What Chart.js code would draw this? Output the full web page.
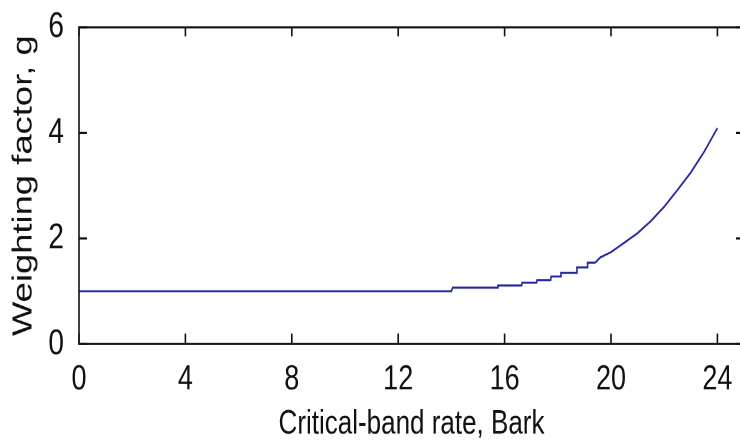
<!DOCTYPE html>
<html>
<head>
<meta charset="utf-8">
<script src="https://cdn.jsdelivr.net/npm/chart.js@4.4.1/dist/chart.umd.min.js"></script>
<style>
  html, body { margin: 0; padding: 0; background: #fff; overflow: hidden; width: 740px; height: 442px; }
  #wrap { width: 746px; height: 340px; transform: scaleY(1.3); transform-origin: 0 0; }
</style>
</head>
<body>
<div id="wrap"><canvas id="c" width="746" height="340"></canvas></div>
<script>
// Data
const barkValues = [0, 14.0, 14.05, 15.73, 15.75, 16.64, 16.66, 17.2, 17.22, 17.73, 17.75, 18.1, 18.12, 18.7, 18.72, 19.1, 19.12, 19.4, 19.6, 20.0, 20.5, 21.0, 21.5, 22.0, 22.5, 23.0, 23.5, 24.0];
const weightValues = [1.0, 1.0, 1.07, 1.07, 1.11, 1.11, 1.16, 1.16, 1.21, 1.21, 1.28, 1.28, 1.35, 1.35, 1.45, 1.45, 1.54, 1.54, 1.64, 1.74, 1.92, 2.10, 2.33, 2.60, 2.92, 3.25, 3.64, 4.09];
const xTickValues = [0, 4, 8, 12, 16, 20, 24];
const yTickValues = [0, 2, 4, 6];
const xTitle = 'Critical-band rate, Bark';
const yTitle = 'Weighting factor, g';

const points = barkValues.map((b, i) => ({ x: b, y: weightValues[i] }));

const boxPlugin = {
  id: 'boxTicks',
  afterDraw(chart) {
    const { ctx, chartArea: { left, right, top, bottom }, scales: { x, y } } = chart;
    ctx.save();
    ctx.strokeStyle = '#111';
    ctx.lineWidth = 1.6;
    ctx.strokeRect(left, top, right - left, bottom - top);
    ctx.beginPath();
    x.ticks.forEach(t => {
      const px = x.getPixelForValue(t.value);
      ctx.moveTo(px, bottom); ctx.lineTo(px, bottom - 8);
      ctx.moveTo(px, top); ctx.lineTo(px, top + 7);
    });
    y.ticks.forEach(t => {
      const py = y.getPixelForValue(t.value);
      ctx.moveTo(left, py); ctx.lineTo(left + 8, py);
      ctx.moveTo(right, py); ctx.lineTo(right - 8, py);
    });
    ctx.stroke();
    ctx.restore();
  }
};

new Chart(document.getElementById('c'), {
  type: 'line',
  data: {
    datasets: [{
      data: points,
      borderColor: 'rgb(38,38,160)',
      borderWidth: 1.6,
      pointRadius: 0,
      tension: 0,
      fill: false
    }]
  },
  options: {
    responsive: false,
    devicePixelRatio: 2,
    animation: false,
    layout: { padding: { top: 20, right: 2, left: 0, bottom: 0 } },
    plugins: { legend: { display: false }, tooltip: { enabled: false } },
    scales: {
      x: {
        type: 'linear',
        min: 0, max: 25,
        afterFit: s => { s.height = 75.4; },
        afterBuildTicks: s => { s.ticks = xTickValues.map(v => ({ value: v })); },
        grid: { display: false },
        border: { display: false },
        ticks: {
          stepSize: 4, includeBounds: false,
          padding: 6,
          color: '#111',
          font: { family: 'Liberation Sans, Arial, sans-serif', size: 27, lineHeight: 1 },
          maxRotation: 0
        },
        title: {
          display: true, text: xTitle, color: '#111',
          font: { family: 'Liberation Sans, Arial, sans-serif', size: 26, lineHeight: 1 },
          padding: { top: 0, bottom: 0.5 }
        }
      },
      y: {
        min: 0, max: 6,
        afterFit: s => { s.width = 79; },
        afterBuildTicks: s => { s.ticks = yTickValues.map(v => ({ value: v })); },
        grid: { display: false },
        border: { display: false },
        ticks: {
          stepSize: 2,
          padding: 7,
          color: '#111',
          font: { family: 'Liberation Sans, Arial, sans-serif', size: 28, lineHeight: 1 }
        },
        title: {
          display: true, text: yTitle, color: '#111',
          font: { family: 'Liberation Sans, Arial, sans-serif', size: 28, lineHeight: 1 },
          padding: { top: 10, bottom: 0 }
        }
      }
    }
  },
  plugins: [boxPlugin]
});
</script>
</body>
</html>
